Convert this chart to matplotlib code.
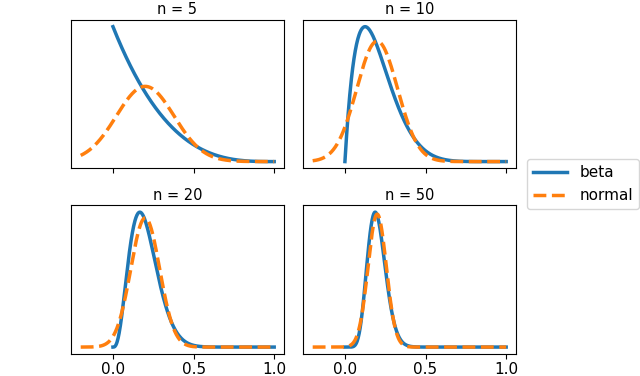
import math
import numpy as np
import matplotlib
matplotlib.use("Agg")
import matplotlib.pyplot as plt

# sample sizes for each panel and the success probability
n_values = [5, 10, 20, 50]
p = 0.2
x_beta = np.linspace(0, 1, 500)
x_norm = np.linspace(-0.2, 1, 600)


def beta_pdf(x, a, b):
    c = math.exp(math.lgamma(a + b) - math.lgamma(a) - math.lgamma(b))
    return c * x ** (a - 1) * (1 - x) ** (b - 1)


def norm_pdf(x, mu, sd):
    return np.exp(-0.5 * ((x - mu) / sd) ** 2) / (sd * math.sqrt(2 * math.pi))


fig, axes = plt.subplots(2, 2, figsize=(6.4, 3.76), dpi=100, sharex=True)
fig.subplots_adjust(left=0.111, right=0.806, top=0.947, bottom=0.059,
                    wspace=0.09, hspace=0.25)

for ax, n in zip(axes.flat, n_values):
    a, b = n * p, n * (1 - p)
    yb = beta_pdf(x_beta, a, b)
    yn = norm_pdf(x_norm, p, math.sqrt(p * (1 - p) / n))
    ax.plot(x_beta, yb, color="#1f77b4", lw=2.5, label="beta")
    ax.plot(x_norm, yn, color="#ff7f0e", lw=2.5, ls="--", label="normal")
    ax.set_title(f"n = {n}", fontsize=10.5, pad=4)
    ax.set_yticks([])
    ax.set_xticks([0.0, 0.5, 1.0])
    ax.tick_params(axis="x", labelsize=11, pad=2.5)

handles, labels = axes[0, 0].get_legend_handles_labels()
fig.legend(handles, labels, loc="center left", bbox_to_anchor=(0.812, 0.51),
           fontsize=11, handlelength=2.2)

plt.savefig("out.png", dpi=100)
